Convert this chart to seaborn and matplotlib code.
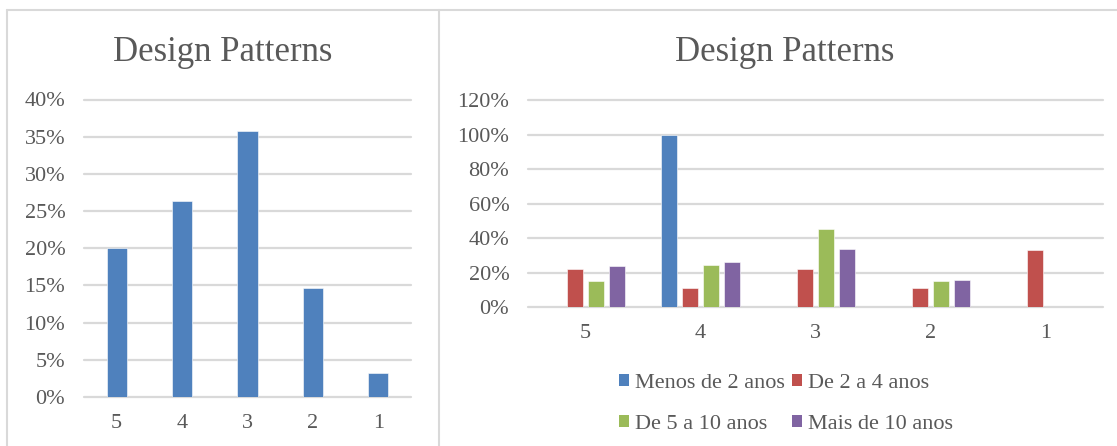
import matplotlib
matplotlib.use("Agg")
import matplotlib.pyplot as plt
from matplotlib.lines import Line2D
from matplotlib.patches import Patch
from matplotlib.ticker import PercentFormatter
import pandas as pd
import seaborn as sns

# Ratings (5 = best) and overall share of answers
ratings = ["5", "4", "3", "2", "1"]
overall_share = [0.200, 0.263, 0.358, 0.147, 0.032]

# Share of answers per experience group
groups = ["Menos de 2 anos", "De 2 a 4 anos", "De 5 a 10 anos", "Mais de 10 anos"]
menos_2 = [0.0, 1.0, 0.0, 0.0, 0.0]
de_2_a_4 = [0.222, 0.111, 0.222, 0.111, 0.333]
de_5_a_10 = [0.152, 0.242, 0.455, 0.152, 0.0]
mais_10 = [0.24, 0.26, 0.34, 0.16, 0.0]

colors = ["#4F81BD", "#C0504D", "#9BBB59", "#8064A2"]
title = "Design Patterns"

sns.set_theme(style="white")
plt.rcParams["font.family"] = ["Liberation Serif", "DejaVu Serif"]

TXT = "#595959"
GRID = "#D9D9D9"
FS = 16

W, H = 1117, 446
fig = plt.figure(figsize=(W / 100, H / 100), dpi=100)


def style_axes(ax, ymax, step):
    ax.set_ylim(0, ymax)
    ax.set_yticks([i * step for i in range(int(round(ymax / step)) + 1)])
    ax.yaxis.set_major_formatter(PercentFormatter(1.0, decimals=0))
    ax.set_axisbelow(True)
    ax.yaxis.grid(True, color=GRID, linewidth=1.6)
    ax.xaxis.grid(False)
    for gl in ax.get_ygridlines():
        gl.set_clip_on(False)
    for s in ax.spines.values():
        s.set_visible(False)
    ax.tick_params(axis="both", length=0, labelsize=FS, labelcolor=TXT)
    ax.tick_params(axis="y", pad=13.5)
    ax.tick_params(axis="x", pad=12)
    ax.set_xlabel("")
    ax.set_ylabel("")


# Left: overall distribution
ax1 = fig.add_axes([84 / W, (H - 397) / H, 327 / W, 297.5 / H])
left_df = pd.DataFrame({"rating": ratings, "share": overall_share})
sns.barplot(data=left_df, x="rating", y="share", order=ratings, color=colors[0],
            width=0.31, saturation=1, edgecolor="white", linewidth=0.4, ax=ax1)
ax1.set_xlim(-0.5, len(ratings) - 0.5)
style_axes(ax1, 0.40, 0.05)

# Right: distribution per experience group
ax2 = fig.add_axes([528 / W, (H - 307.3) / H, 575 / W, 207.3 / H])
right_df = pd.DataFrame({
    "rating": ratings * 4,
    "group": sum([[g] * len(ratings) for g in groups], []),
    "share": menos_2 + de_2_a_4 + de_5_a_10 + mais_10,
})
sns.barplot(data=right_df, x="rating", y="share", hue="group", order=ratings,
            hue_order=groups, palette=colors, width=0.73, gap=0.2, saturation=1,
            edgecolor="white", linewidth=0.4, ax=ax2, legend=False)
ax2.set_xlim(-0.5, len(ratings) - 0.5)
style_axes(ax2, 1.20, 0.20)

# Legend below the right chart, two rows
handles = [Patch(facecolor=c, edgecolor="none") for c in colors]
order = [0, 2, 1, 3]
fig.legend([handles[i] for i in order], [groups[i] for i in order],
           ncol=2, loc="center", bbox_to_anchor=(786 / W, (H - 404) / H),
           frameon=False, fontsize=FS, labelcolor=TXT,
           handlelength=0.45, handleheight=0.45, handletextpad=0.25,
           columnspacing=0.35, labelspacing=1.0, borderpad=0)

# Titles
fig.text(223 / W, (H - 61) / H, title, ha="center", va="baseline",
         fontsize=25, color=TXT)
fig.text(785 / W, (H - 61) / H, title, ha="center", va="baseline",
         fontsize=25, color=TXT)

# Panel frames
frame_kw = dict(color=GRID, linewidth=1.5, transform=fig.transFigure)
fig.add_artist(Line2D([7 / W, 7 / W], [0, (H - 10) / H], **frame_kw))
fig.add_artist(Line2D([7 / W, 1], [(H - 10) / H, (H - 10) / H], **frame_kw))
fig.add_artist(Line2D([439 / W, 439 / W], [0, (H - 10) / H], **frame_kw))

fig.savefig("out.png", dpi=100, facecolor="white")
